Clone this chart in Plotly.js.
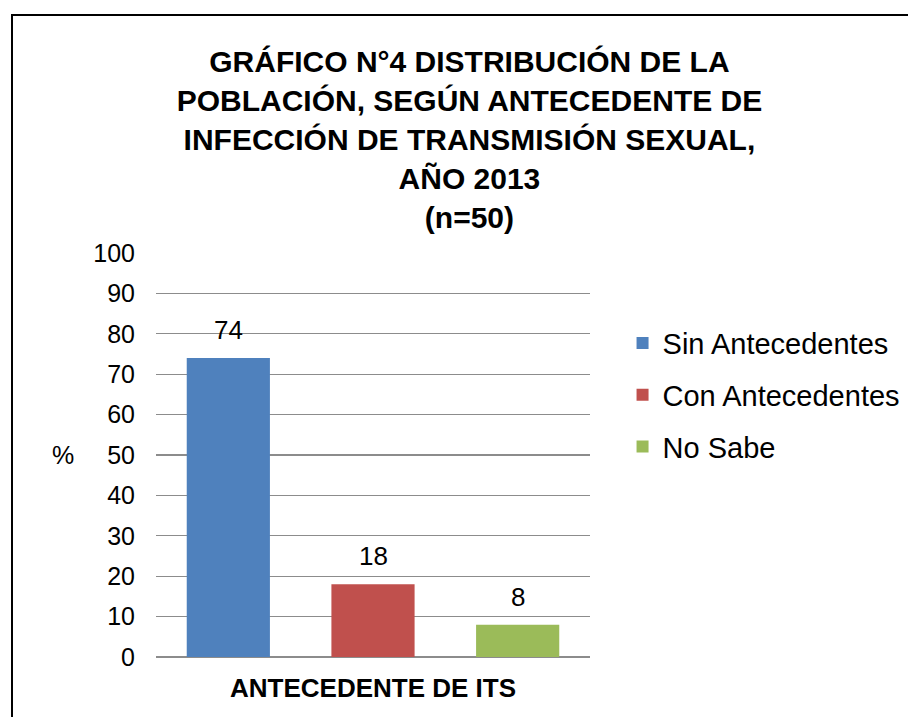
<!DOCTYPE html>
<html>
<head>
<meta charset="utf-8">
<script src="https://cdn.plot.ly/plotly-3.0.1.min.js"></script>
<style>
  html, body { margin:0; padding:0; background:#fff; overflow:hidden; }
  #wrap { position:relative; width:908px; height:717px; }
  #chart { position:absolute; left:0; top:0; width:908px; height:717px; }
  #frame { position:absolute; left:11px; top:14px; width:1000px; height:1000px;
           border:2px solid #000; pointer-events:none; box-sizing:border-box; }
</style>
</head>
<body>
<div id="wrap">
  <div id="chart"></div>
  <div id="frame"></div>
</div>
<script>
const categories = ['Sin Antecedentes', 'Con Antecedentes', 'No Sabe'];
const values = [74, 18, 8];
const colors = ['#4F81BD', '#C0504D', '#9BBB59'];
const yTicks = [0, 10, 20, 30, 40, 50, 60, 70, 80, 90, 100];
const titleText = 'GRÁFICO N°4 DISTRIBUCIÓN DE LA<br>POBLACIÓN, SEGÚN ANTECEDENTE DE<br>INFECCIÓN DE TRANSMISIÓN SEXUAL,<br>AÑO 2013<br>(n=50)';
const xTitle = 'ANTECEDENTE DE ITS';
const yTitle = '%';

const FONT = 'Liberation Sans, Arial, sans-serif';

const traces = categories.map((c, i) => ({
  type: 'bar',
  name: c,
  x: [c],
  y: [values[i]],
  marker: { color: colors[i] },
  legendgroup: 'g' + i,
  hoverinfo: 'x+y'
}));

const labelAnnotations = categories.map((c, i) => ({
  text: String(values[i]),
  xref: 'x', yref: 'y',
  x: c, y: values[i],
  xanchor: 'center', yanchor: 'bottom',
  yshift: 11,
  showarrow: false,
  font: { family: FONT, size: 26, color: '#000' }
}));

const layout = {
  width: 908,
  height: 717,
  paper_bgcolor: '#fff',
  plot_bgcolor: '#fff',
  margin: { l: 156, r: 318, t: 253, b: 60, autoexpand: false },
  font: { family: FONT, color: '#000' },
  title: {
    text: titleText,
    font: { family: FONT, size: 30, color: '#000', weight: 'bold' },
    x: 0.517, xanchor: 'center',
    y: 0.899, yanchor: 'top'
  },
  barmode: 'overlay',
  bargap: 0.425,
  showlegend: true,
  legend: {
    x: 1.075, xanchor: 'left',
    y: 0.84, yanchor: 'top',
    font: { family: FONT, size: 29, color: '#000' },
    traceorder: 'grouped',
    tracegroupgap: 11,
    bgcolor: 'rgba(0,0,0,0)'
  },
  xaxis: {
    type: 'category',
    showticklabels: false,
    showgrid: false,
    zeroline: false,
    showline: false,
    ticks: '',
    title: {
      text: '<b>' + xTitle + '</b>',
      font: { family: FONT, size: 26, color: '#000' },
      standoff: 21
    }
  },
  yaxis: {
    range: [0, 100],
    tickvals: yTicks,
    ticktext: yTicks.map(String),
    tickfont: { family: FONT, size: 25, color: '#000' },
    showgrid: true,
    gridcolor: '#8C8C8C',
    gridwidth: 1.3,
    zeroline: true,
    zerolinecolor: '#8C8C8C',
    zerolinewidth: 1.3,
    showline: false,
    ticks: '',
    ticklabelstandoff: 20,
    fixedrange: true
  },
  annotations: labelAnnotations.concat([{
    text: yTitle,
    xref: 'paper', yref: 'paper',
    x: -0.215, y: 0.5,
    xanchor: 'center', yanchor: 'middle',
    showarrow: false,
    font: { family: FONT, size: 25, color: '#000' }
  }])
};

Plotly.newPlot('chart', traces, layout, { displayModeBar: false, staticPlot: true });
</script>
</body>
</html>
